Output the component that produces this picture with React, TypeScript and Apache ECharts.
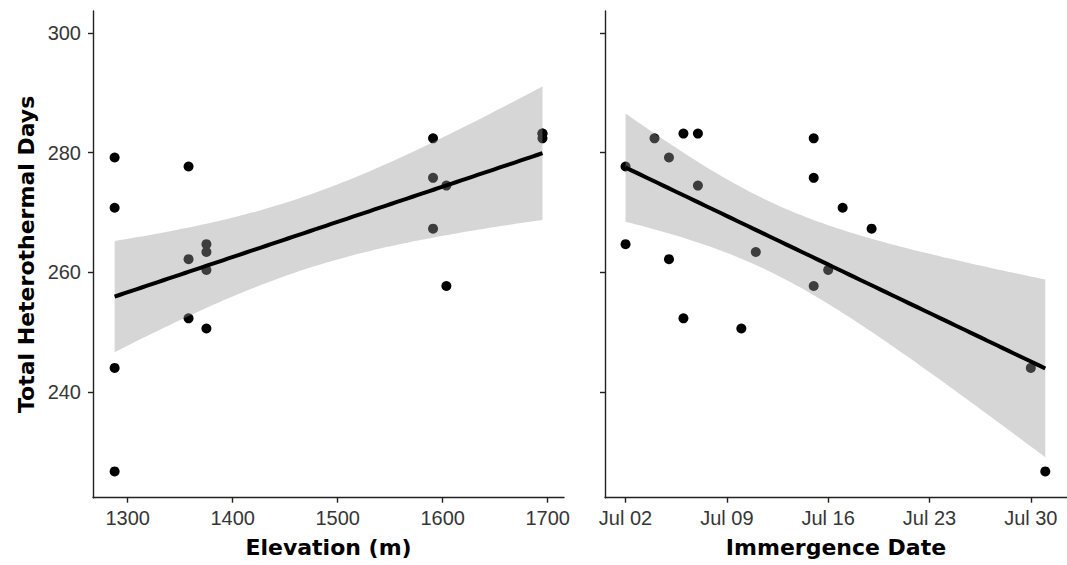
import React, { useEffect, useRef } from "react";
import * as echarts from "echarts";

// Observations (one per animal): heterothermal days, site elevation, immergence day (July)
const heteroDays = [
  279.2, 270.8, 244.0, 226.7, 277.7, 262.2, 252.3, 264.7, 263.4, 260.4,
  250.6, 282.4, 275.8, 267.3, 274.5, 257.7, 283.2, 283.2, 282.4,
];
const elevation = [
  1287.6, 1287.6, 1287.6, 1287.6, 1358, 1358, 1358, 1375, 1375, 1375,
  1375, 1590.8, 1590.8, 1590.8, 1603.5, 1603.5, 1695, 1695, 1695,
];
const immergenceDay = [
  5, 17, 30, 31, 2, 5, 6, 2, 11, 16,
  10, 4, 15, 19, 7, 15, 6, 7, 15,
];

const yTicks = [240, 260, 280, 300];
const elevTicks = [1300, 1400, 1500, 1600, 1700];
const dateTicks = [2, 9, 16, 23, 30];

const T_975_DF17 = 2.1098; // t quantile for 95% CI, n - 2 = 17 df

function fit(xs: number[], ys: number[]) {
  const n = xs.length;
  const mx = xs.reduce((a, b) => a + b, 0) / n;
  const my = ys.reduce((a, b) => a + b, 0) / n;
  let sxx = 0, sxy = 0, syy = 0;
  for (let i = 0; i < n; i++) {
    sxx += (xs[i] - mx) ** 2;
    sxy += (xs[i] - mx) * (ys[i] - my);
    syy += (ys[i] - my) ** 2;
  }
  const slope = sxy / sxx;
  const intercept = my - slope * mx;
  const s = Math.sqrt((syy - (sxy * sxy) / sxx) / (n - 2));
  const lo = Math.min(...xs), hi = Math.max(...xs);
  const line: number[][] = [];
  const upper: number[][] = [];
  const lower: number[][] = [];
  const N = 80;
  for (let k = 0; k < N; k++) {
    const x = lo + ((hi - lo) * k) / (N - 1);
    const yh = intercept + slope * x;
    const se = s * Math.sqrt(1 / n + (x - mx) ** 2 / sxx);
    line.push([x, yh]);
    upper.push([x, yh + T_975_DF17 * se]);
    lower.push([x, yh - T_975_DF17 * se]);
  }
  return { line, band: upper.concat(lower.slice().reverse()) };
}

const AX = "#222";
const LABEL = "#363636";
const FONT = "'Liberation Sans', Arial, sans-serif";
const TITLE_FONT = "'DejaVu Sans', sans-serif";

export default function App() {
  const ref = useRef<HTMLDivElement>(null);
  useEffect(() => {
    if (!ref.current) return;
    const chart = echarts.init(ref.current, undefined, { renderer: "svg" });
    const left = fit(elevation, heteroDays);
    const right = fit(immergenceDay, heteroDays);
    const pad = (v: number) => (v < 10 ? "0" + v : "" + v);

    const yAxisBase = (idx: number, showLabel: boolean) => ({
      type: "value",
      gridIndex: idx,
      min: 222.3,
      max: 303.7,
      splitLine: { show: false },
      axisLine: { show: true, onZero: false, lineStyle: { color: AX, width: 1.4 } },
      axisTick: { show: true, length: 5, lineStyle: { color: AX, width: 1.4 }, customValues: yTicks },
      axisLabel: {
        show: showLabel,
        customValues: yTicks,
        margin: 12,
        fontSize: 20,
        fontFamily: FONT,
        color: LABEL,
      },
      name: showLabel ? "Total Heterothermal Days" : "",
      nameLocation: "middle",
      nameGap: 56,
      nameTextStyle: { fontSize: 22, fontWeight: "bold", fontFamily: TITLE_FONT, color: "#000" },
    });

    const xAxisBase = (idx: number, min: number, max: number, ticks: number[], name: string, fmt: (v: number) => string) => ({
      type: "value",
      gridIndex: idx,
      min,
      max,
      splitLine: { show: false },
      axisLine: { show: true, onZero: false, lineStyle: { color: AX, width: 1.4 } },
      axisTick: { show: true, length: 5, lineStyle: { color: AX, width: 1.4 }, customValues: ticks },
      axisLabel: {
        customValues: ticks,
        margin: 10,
        fontSize: 20,
        lineHeight: 20,
        fontFamily: FONT,
        color: LABEL,
        formatter: fmt,
      },
      name,
      nameLocation: "middle",
      nameGap: 39,
      nameTextStyle: { fontSize: 22, lineHeight: 22, fontWeight: "bold", fontFamily: TITLE_FONT, color: "#000" },
    });

    const bandSeries = (idx: number, band: number[][]) => ({
      type: "custom",
      xAxisIndex: idx,
      yAxisIndex: idx,
      silent: true,
      z: 3,
      data: [band[0]],
      renderItem: (_p: any, api: any) => ({
        type: "polygon",
        shape: { points: band.map((pt) => api.coord(pt)) },
        style: { fill: "rgba(153,153,153,0.4)" },
      }),
    });

    const scatter = (idx: number, xs: number[]) => ({
      type: "scatter",
      xAxisIndex: idx,
      yAxisIndex: idx,
      z: 2,
      symbolSize: 10,
      itemStyle: { color: "#000", opacity: 1 },
      data: xs.map((x, i) => [x, heteroDays[i]]),
    });

    const fitLine = (idx: number, pts: number[][]) => ({
      type: "line",
      xAxisIndex: idx,
      yAxisIndex: idx,
      z: 4,
      showSymbol: false,
      lineStyle: { color: "#000", width: 4 },
      data: pts,
    });

    chart.setOption({
      animation: false,
      backgroundColor: "#fff",
      grid: [
        { left: 93, top: 11, width: 471, height: 486.7 },
        { left: 605, top: 11, width: 471, height: 486.7 },
      ],
      xAxis: [
        xAxisBase(0, 1267, 1715.5, elevTicks, "Elevation (m)", (v: number) => String(v)),
        xAxisBase(1, 0.58, 32.5, dateTicks, "Immergence Date", (v: number) => "Jul " + pad(v)),
      ],
      yAxis: [yAxisBase(0, true), yAxisBase(1, false)],
      series: [
        scatter(0, elevation),
        bandSeries(0, left.band),
        fitLine(0, left.line),
        scatter(1, immergenceDay),
        bandSeries(1, right.band),
        fitLine(1, right.line),
      ],
    });
    return () => chart.dispose();
  }, []);
  return (
    <div
      ref={ref}
      style={{ position: "fixed", left: 0, top: 0, width: 1067, height: 565, background: "#fff" }}
    />
  );
}
